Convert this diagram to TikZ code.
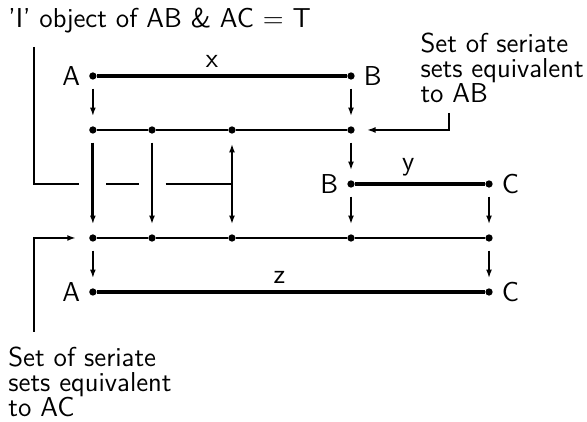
\documentclass[tikz,border=0pt]{standalone}
\usepackage{tikz}
\usetikzlibrary{arrows.meta,positioning}

\begin{document}
\begin{tikzpicture}[>={Latex[length=1.6mm,width=1.1mm]},
    every node/.style={font=\fontsize{14.4}{13}\selectfont\sffamily},
    dot/.style={circle, fill, inner sep=0pt, minimum size=1.35mm},
    flow/.style={->, line width=1.2pt, shorten <=1.6mm, shorten >=1.8mm},
    brace/.style={line width=1.4pt}]
    \useasboundingbox (0,-1.407) rectangle (10.87,6.407);

    \node[dot] (a1) at (1.72,5) {};
    \node[dot] (b1) at (6.5,5) {};
    \node[left=0.04cm of a1] (la1) {A};
    \node[right=0.04cm of b1] (lb1) {B};
    \draw[line width=1.8pt] (a1) -- (b1) node[pos=0.46, above] (lx) {x};

    \node[dot] (m1) at (1.72,4) {};
    \node[dot] (m2) at (2.815,4) {};
    \node[dot] (m3) at (4.296,4) {};
    \node[dot] (m4) at (6.5,4) {};
    \draw[line width=1.2pt] (m1) -- (m2) -- (m3) -- (m4);

    \node[dot] (b2) at (6.5,3) {};
    \node[dot] (c2) at (9.056,3) {};
    \node[left=0.04cm of b2] (lb2) {B};
    \node[right=0.04cm of c2] (lc2) {C};
    \draw[line width=1.6pt] (b2) -- (c2) node[pos=0.41, above] (ly) {y};

    \node[dot] (n1) at (1.72,2) {};
    \node[dot] (n2) at (2.815,2) {};
    \node[dot] (n3) at (4.296,2) {};
    \node[dot] (n4) at (6.5,2) {};
    \node[dot] (n5) at (9.056,2) {};
    \draw[line width=1.5pt] (n1) -- (n2) -- (n3) -- (n4) -- (n5);

    \node[dot] (a3) at (1.72,1) {};
    \node[dot] (c3) at (9.056,1) {};
    \node[left=0.04cm of a3] (la3) {A};
    \node[right=0.04cm of c3] (lc3) {C};
    \draw[line width=2.1pt] (a3) -- (c3) node[pos=0.47, above] (lz) {z};

    \draw[flow] (a1) -- (m1);
    \draw[flow] (b1) -- (m4);
    \draw[flow] (m4) -- (b2);
    \draw[flow, line width=1.6pt] (m1) -- (n1);
    \draw[flow] (m2) -- (n2);
    \draw[flow, <->, shorten <=1.8mm] (m3) -- (n3);
    \draw[flow] (b2) -- (n4);
    \draw[flow] (c2) -- (n5);
    \draw[flow] (n1) -- (a3);
    \draw[flow] (n5) -- (c3);

    \node[anchor=base west, inner sep=0pt] (title) at (0.148,5.889) {'I' object of AB \& AC $=$ T};
    \coordinate (t0) at (0.63,5.54);
    \draw[brace] (t0) |- ([xshift=-2.5mm]m1 |- b2);
    \draw[brace] ([xshift=2.5mm]m1 |- b2) -- ([xshift=-2.5mm]m2 |- b2);
    \draw[brace] ([xshift=2.5mm]m2 |- b2) -- (m3 |- b2);

    \node[anchor=north west, align=left, inner sep=0pt] (setab) at (7.78,5.8) {Set of seriate\\sets equivalent\\to AB};
    \coordinate (s0) at (8.315,4.315);
    \draw[->, line width=1.2pt, shorten >=2.2mm] (s0) |- (m4);

    \node[anchor=north west, align=left, inner sep=0pt] (setac) at (0.148,-0.015) {Set of seriate\\sets equivalent\\to AC};
    \coordinate (s1) at (0.63,0.26);
    \draw[->, brace, shorten >=2.4mm] (s1) |- (n1);
\end{tikzpicture}
\end{document}
